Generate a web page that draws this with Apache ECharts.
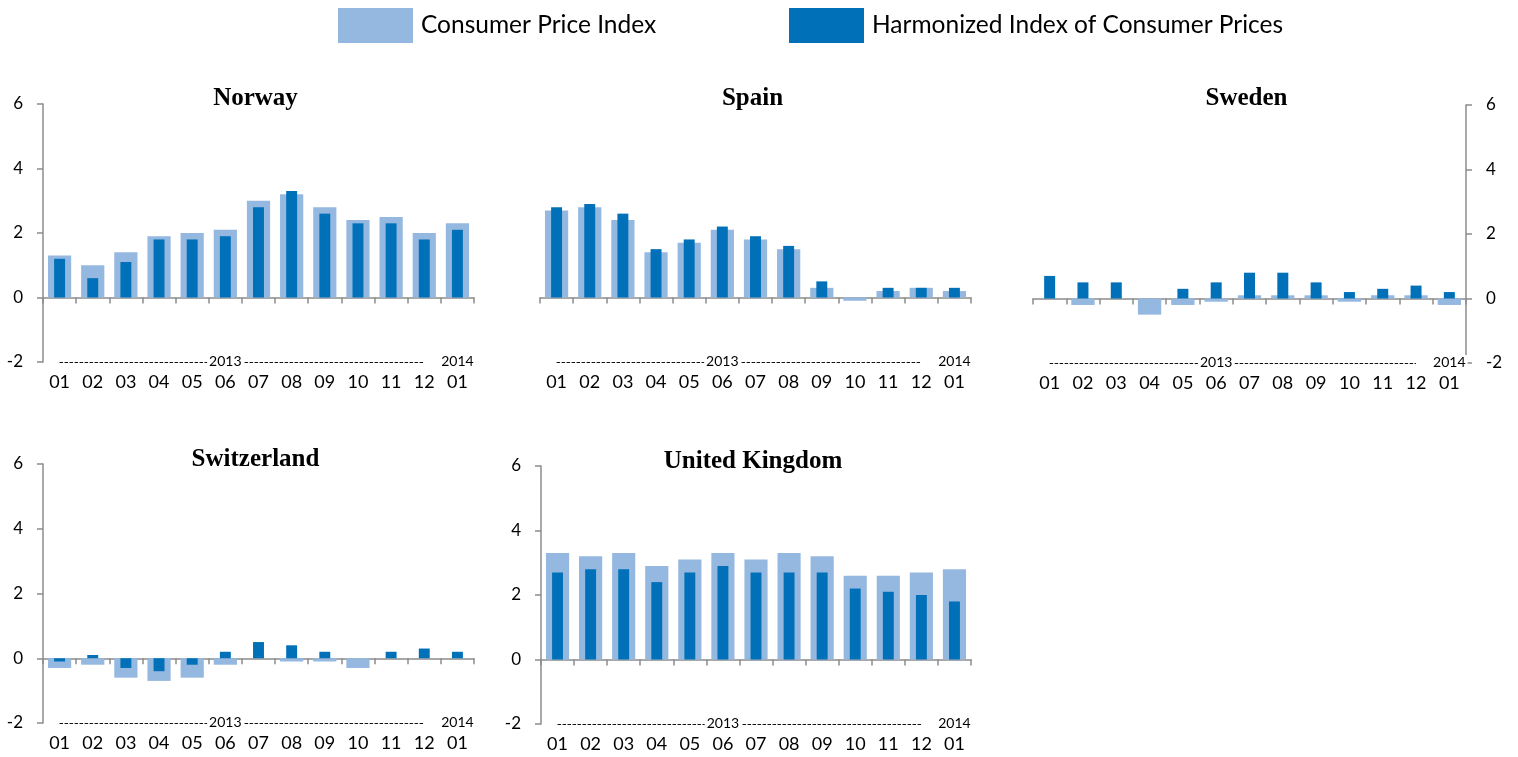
<!DOCTYPE html>
<html><head><meta charset="utf-8">
<script src="https://cdn.jsdelivr.net/npm/echarts@6/dist/echarts.min.js"></script>
<style>html,body{margin:0;padding:0;background:#fff}#c{width:1518px;height:757px}</style>
</head><body><div id="c"></div>
<script>
// ---- data ----
const months = ['01','02','03','04','05','06','07','08','09','10','11','12','01'];
const yearLabels = ['','','','','','2013','','','','','','','2014'];
const seriesNames = ['Consumer Price Index', 'Harmonized Index of Consumer Prices'];
const countries = ['Norway', 'Spain', 'Sweden', 'Switzerland', 'United Kingdom'];
const yMin = -2, yMax = 6, yStep = 2;

const norwayCPI   = [1.3, 1.0, 1.4, 1.9, 2.0, 2.1, 3.0, 3.2, 2.8, 2.4, 2.5, 2.0, 2.3];
const norwayHICP  = [1.2, 0.6, 1.1, 1.8, 1.8, 1.9, 2.8, 3.3, 2.6, 2.3, 2.3, 1.8, 2.1];
const spainCPI    = [2.7, 2.8, 2.4, 1.4, 1.7, 2.1, 1.8, 1.5, 0.3, -0.1, 0.2, 0.3, 0.2];
const spainHICP   = [2.8, 2.9, 2.6, 1.5, 1.8, 2.2, 1.9, 1.6, 0.5, 0.0, 0.3, 0.3, 0.3];
const swedenCPI   = [0.0, -0.2, 0.0, -0.5, -0.2, -0.1, 0.1, 0.1, 0.1, -0.1, 0.1, 0.1, -0.2];
const swedenHICP  = [0.7, 0.5, 0.5, 0.0, 0.3, 0.5, 0.8, 0.8, 0.5, 0.2, 0.3, 0.4, 0.2];
const swissCPI    = [-0.3, -0.2, -0.6, -0.7, -0.6, -0.2, 0.0, -0.1, -0.1, -0.3, 0.0, 0.0, 0.0];
const swissHICP   = [-0.1, 0.1, -0.3, -0.4, -0.2, 0.2, 0.5, 0.4, 0.2, 0.0, 0.2, 0.3, 0.2];
const ukCPI       = [3.3, 3.2, 3.3, 2.9, 3.1, 3.3, 3.1, 3.3, 3.2, 2.6, 2.6, 2.7, 2.8];
const ukHICP      = [2.7, 2.8, 2.8, 2.4, 2.7, 2.9, 2.7, 2.7, 2.7, 2.2, 2.1, 2.0, 1.8];

const cpiData  = [norwayCPI, spainCPI, swedenCPI, swissCPI, ukCPI];
const hicpData = [norwayHICP, spainHICP, swedenHICP, swissHICP, ukHICP];

// ---- layout ----
const grids = [
  {left: 43,   top: 104, width: 431, height: 258},
  {left: 540,  top: 104, width: 431, height: 258},
  {left: 1033, top: 105, width: 433, height: 258},
  {left: 43,   top: 464, width: 431, height: 259},
  {left: 541,  top: 466, width: 430, height: 258}
];
const yAxisMode = ['left', 'none', 'right', 'left', 'left'];
const titleTop = [86, 86, 86, 447, 449];

const CPI_COLOR = '#95B8E0';
const HICP_COLOR = '#0071B8';
const AXIS_COLOR = '#8C8C8C';
const LABEL_FONT = 'Lato, "Open Sans", sans-serif';

const legendText = {fontSize: 24.5, color: '#000', fontFamily: LABEL_FONT, padding: [10, 0, 0, 3]};
const option = {
  animation: false,
  backgroundColor: '#fff',
  legend: [
    {data: [seriesNames[0]], left: 338, top: 8, padding: 0, itemWidth: 75, itemHeight: 35,
     icon: 'rect', selectedMode: false, textStyle: legendText},
    {data: [seriesNames[1]], left: 789, top: 8, padding: 0, itemWidth: 75, itemHeight: 35,
     icon: 'rect', selectedMode: false, textStyle: legendText}
  ],
  title: [], grid: [], xAxis: [], yAxis: [], series: []
};

grids.forEach((g, i) => {
  option.grid.push(Object.assign({containLabel: false}, g));
  option.title.push({
    text: countries[i], left: g.left + g.width / 2 - 3, top: titleTop[i], padding: 0,
    textAlign: 'center',
    textStyle: {fontFamily: '"Liberation Serif", serif', fontWeight: 'bold', fontSize: 25, color: '#000'}
  });
  const mode = yAxisMode[i];
  option.yAxis.push({
    gridIndex: i, type: 'value', min: yMin, max: yMax, interval: yStep,
    show: mode !== 'none',
    position: mode === 'right' ? 'right' : 'left',
    axisLine: {show: true, onZero: false, lineStyle: {color: AXIS_COLOR, width: 1.5}},
    axisTick: {show: true, length: 6, lineStyle: {color: AXIS_COLOR, width: 1.5}},
    splitLine: {show: false},
    axisLabel: {fontSize: 17, color: '#000', fontFamily: LABEL_FONT, margin: 20}
  });
  const xBase = option.xAxis.length;
  // A: axis line at zero with boundary ticks
  option.xAxis.push({
    gridIndex: i, type: 'category', data: months, position: 'bottom', boundaryGap: true,
    axisLine: {show: true, onZero: true, lineStyle: {color: AXIS_COLOR, width: 1.5}},
    axisTick: {show: true, interval: 0, length: 6, lineStyle: {color: AXIS_COLOR, width: 1.5}},
    axisLabel: {show: false}, splitLine: {show: false}
  });
  // B: month labels at bottom
  option.xAxis.push({
    gridIndex: i, type: 'category', data: months, position: 'bottom', boundaryGap: true,
    axisLine: {show: false, onZero: false}, axisTick: {show: false},
    axisLabel: {show: true, interval: 0, fontSize: 18, color: '#000', fontFamily: LABEL_FONT, margin: 11},
    splitLine: {show: false}
  });
  // C: year labels on the -2 line
  option.xAxis.push({
    gridIndex: i, type: 'category', data: yearLabels, position: 'bottom', boundaryGap: true, z: 5,
    axisLine: {show: false, onZero: false}, axisTick: {show: false},
    axisLabel: {show: true, interval: 0, fontSize: 14, color: '#000', fontFamily: LABEL_FONT,
                margin: -1, verticalAlign: 'middle', backgroundColor: '#fff', padding: [0, 2]},
    splitLine: {show: false}
  });
  option.series.push({
    name: seriesNames[0], type: 'bar', xAxisIndex: xBase, yAxisIndex: i,
    data: cpiData[i], barWidth: '70%', itemStyle: {color: CPI_COLOR},
    markLine: {
      silent: true, symbol: ['none', 'none'], label: {show: false},
      lineStyle: {color: '#111', type: [3.5, 1.5], width: 1},
      data: [[{coord: [0, yMin]}, {coord: [11, yMin]}]]
    }
  });
  option.series.push({
    name: seriesNames[1], type: 'bar', xAxisIndex: xBase + 1, yAxisIndex: i,
    data: hicpData[i], barWidth: '33%', itemStyle: {color: HICP_COLOR}
  });
});

const chart = echarts.init(document.getElementById('c'), null, {renderer: 'canvas'});
chart.setOption(option);
</script>
</body></html>
